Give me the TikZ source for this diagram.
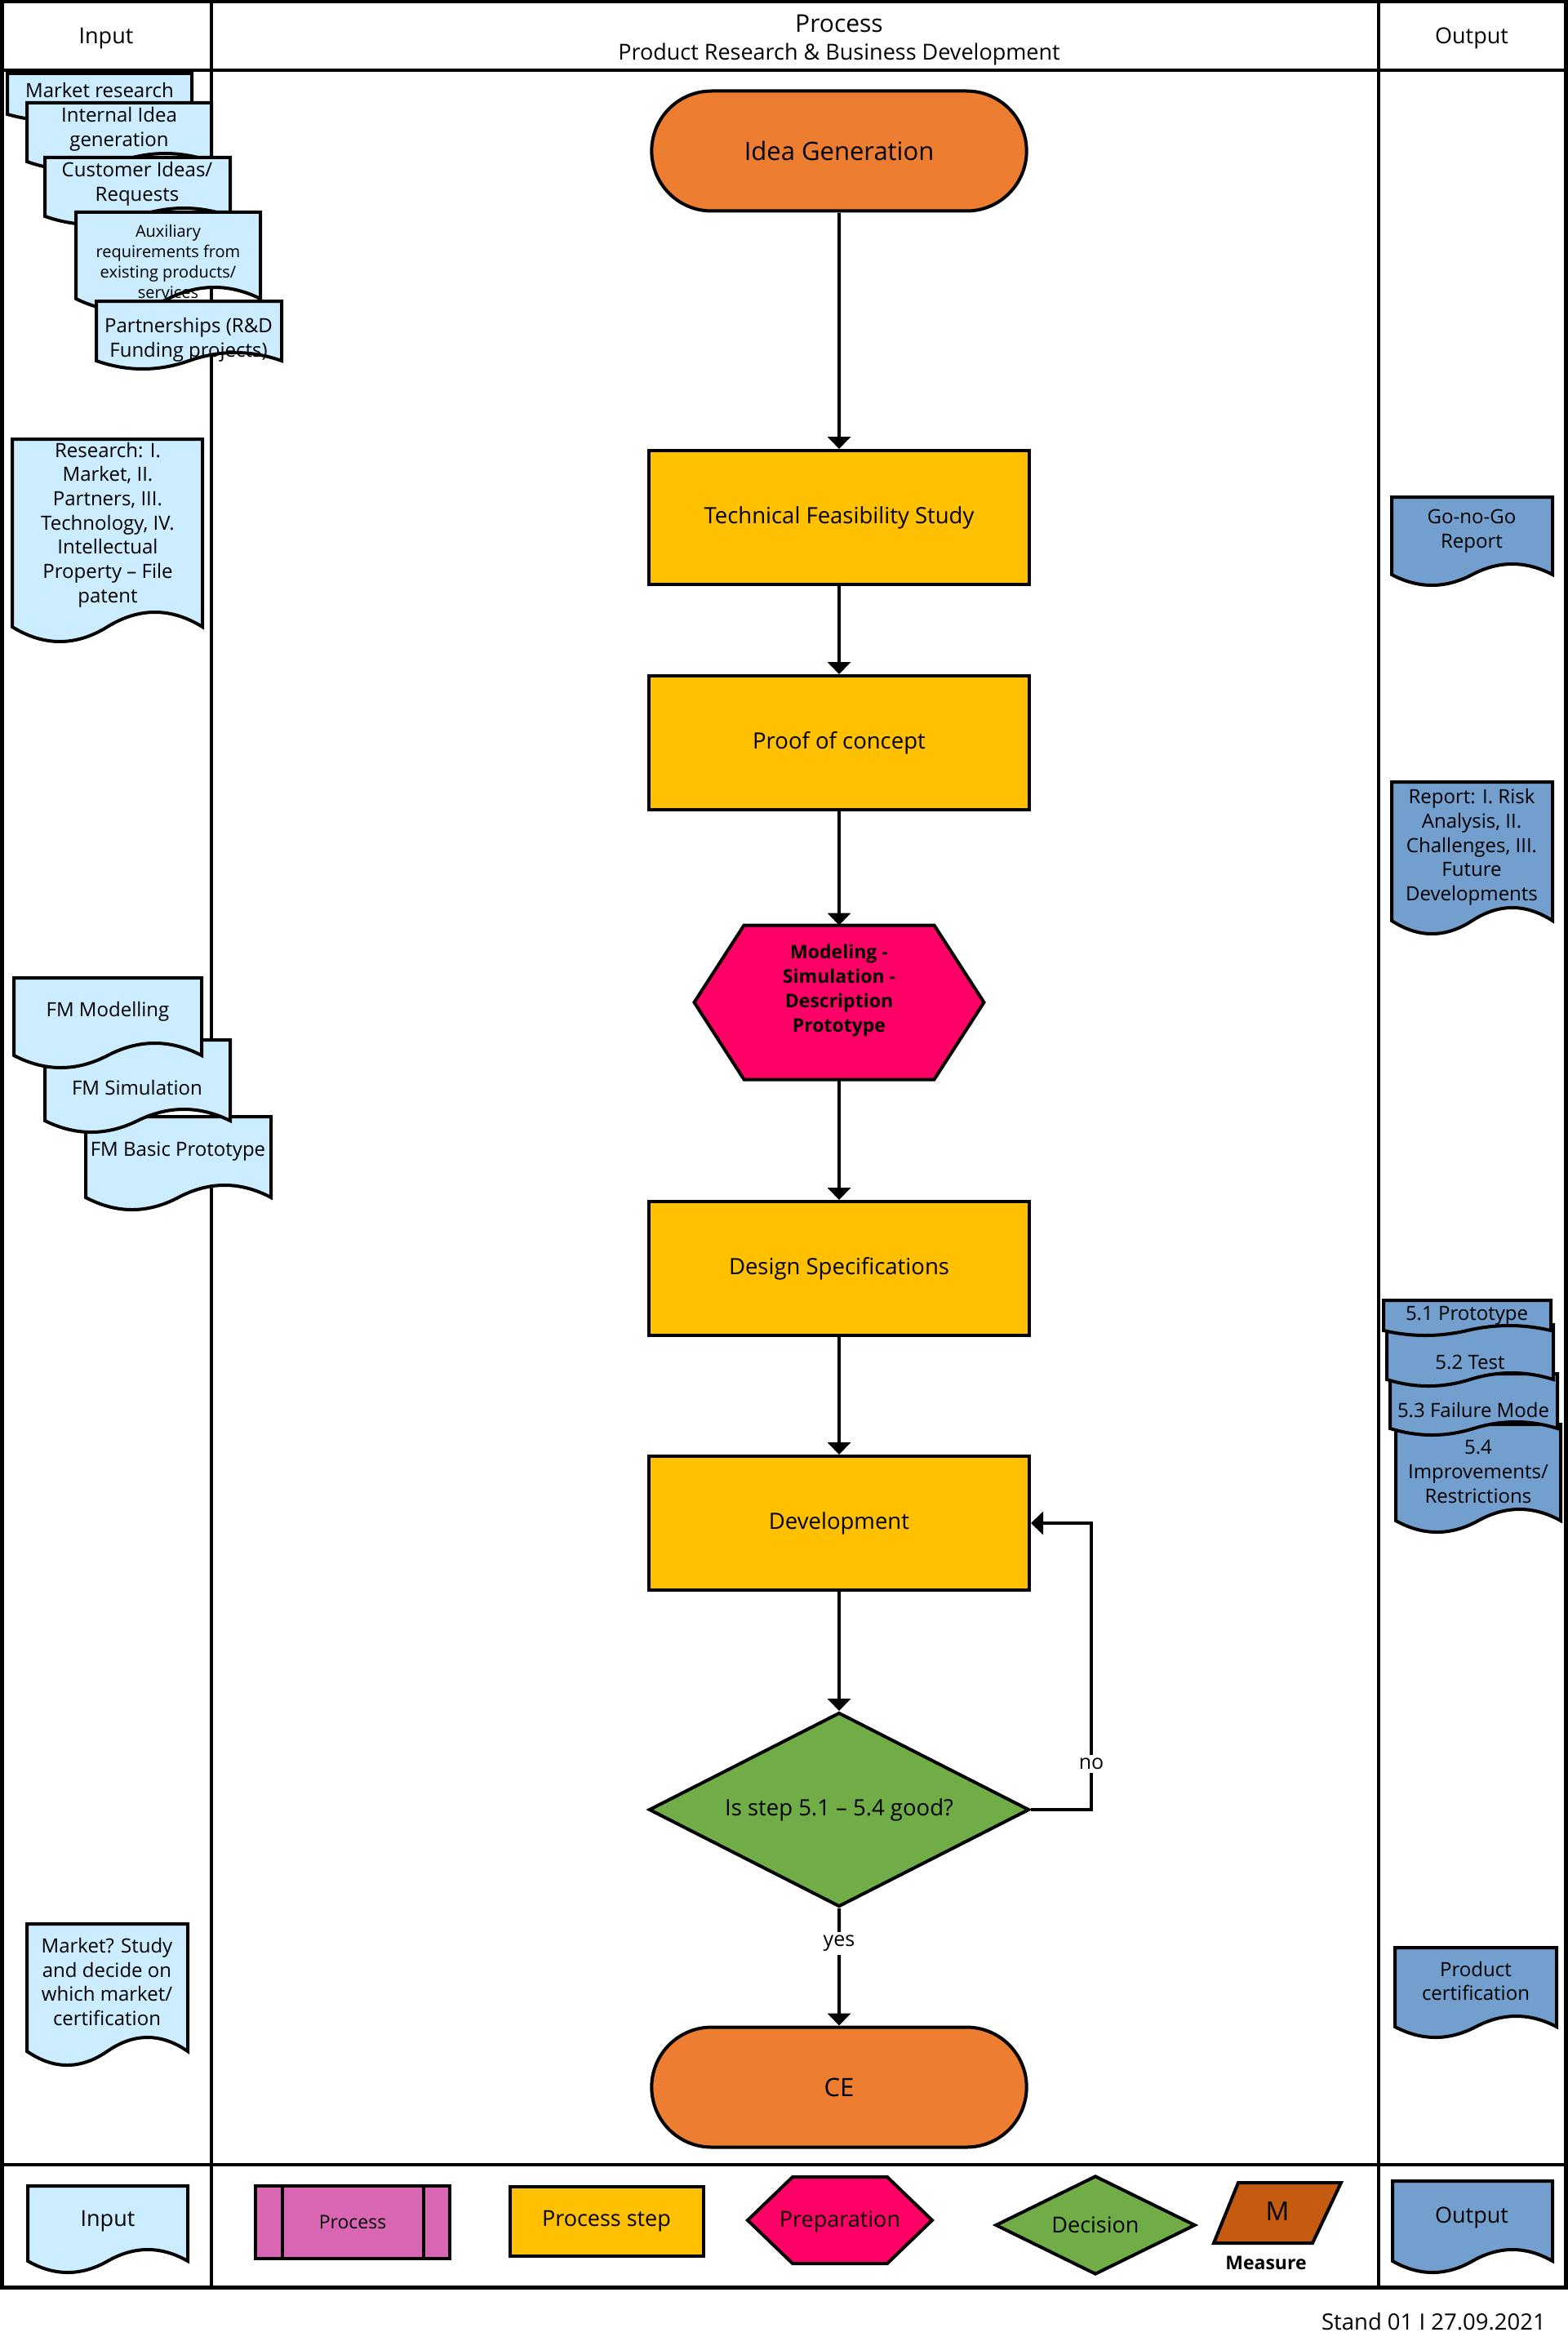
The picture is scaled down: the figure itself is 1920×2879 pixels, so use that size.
\documentclass[tikz,border=0pt]{standalone}
\usepackage{fontspec}
\setmainfont{Open Sans}
\usetikzlibrary{shapes.misc,shapes.geometric,arrows.meta,calc}
\definecolor{inblue}{RGB}{204,236,255}
\definecolor{outblue}{RGB}{114,159,206}
\definecolor{orng}{RGB}{237,125,49}
\definecolor{yel}{RGB}{255,192,0}
\definecolor{hexpink}{RGB}{255,0,102}
\definecolor{grn}{RGB}{112,173,71}
\definecolor{procpink}{RGB}{217,102,178}
\definecolor{measurec}{RGB}{197,90,17}
\newcommand\fsz[2]{\fontsize{#1}{#2}\selectfont}
\tikzset{
  frameline/.style={line width=4pt, draw=black},
  outerline/.style={line width=5pt, draw=black},
  shapeline/.style={line width=4pt, draw=black, line join=miter},
  docline/.style={line width=4pt, draw=black, line join=miter},
  hdr/.style={font=\fsz{27}{32}, inner sep=0pt, align=center},
  doctext/.style={font=\fsz{24}{29.7}, inner sep=0pt, align=center},
  auxtext/.style={font=\fsz{20}{25}, inner sep=0pt, align=center},
  legtext/.style={font=\fsz{27}{32}, inner sep=0pt, align=center},
  stadium/.style={rounded rectangle, shapeline, fill=orng, minimum width=466pt, minimum height=147pt, font=\fsz{31}{36}},
  stepbox/.style={rectangle, shapeline, fill=yel, minimum width=466pt, minimum height=164pt, font=\fsz{27.5}{32}},
  decision/.style={diamond, aspect=2, shapeline, fill=grn, minimum width=466pt, minimum height=238pt, inner sep=2pt, font=\fsz{27.5}{32}},
  hexbox/.style={rectangle, inner sep=0pt, outer sep=0pt},
  arr/.style={line width=4pt, -{Triangle[length=15pt,width=28pt]}},
  lbl/.style={fill=white, inner sep=4pt, font=\fsz{25}{30}},
  procbox/.style={rectangle, shapeline, fill=procpink, outer sep=0pt, minimum width=238pt, minimum height=89pt, font=\fsz{23}{28}},
  legstep/.style={rectangle, shapeline, fill=yel, minimum width=237pt, minimum height=85pt, font=\fsz{27}{32}},
  legdec/.style={diamond, aspect=2, shapeline, fill=grn, minimum width=245pt, minimum height=121pt, inner sep=2pt, font=\fsz{27}{32}}
}
\newcommand\docshape[6]{%
  \pgfmathsetmacro\docL{(#4-#2)/2}%
  \pgfmathsetmacro\docM{#2+\docL}%
  \pgfmathsetmacro\docH{4*#6/3}%
  \filldraw[docline,fill=#1] (#2,#3) -- (#4,#3) -- (#4,#5)
    .. controls ({#4-\docL/3},{#5-\docH}) and ({#4-2*\docL/3},{#5-\docH}) .. (\docM,#5)
    .. controls ({\docM-\docL/3},{#5+\docH}) and ({\docM-2*\docL/3},{#5+\docH}) .. (#2,#5) -- cycle;}
\newcommand\hexdraw[3]{%
  \filldraw[shapeline,fill=#3] (#1.west) -- ($(#1.north west)+(#2,0)$) -- ($(#1.north east)+(-#2,0)$) -- (#1.east) -- ($(#1.south east)+(-#2,0)$) -- ($(#1.south west)+(#2,0)$) -- cycle;}
\begin{document}
\begin{tikzpicture}[x=1pt,y=-1pt]
\useasboundingbox (0,0) rectangle (1920,2879);
\fill[white] (0,0) rectangle (1920,2879);

% frame
\draw[frameline] (259,2) -- (259,2802);
\draw[frameline] (1689,2) -- (1689,2802);
\draw[frameline] (2,86) -- (1918,86);
\draw[frameline] (2,2652) -- (1918,2652);
\draw[outerline] (2,2) rectangle (1918,2802);

% header
\node[hdr] (hin) at (130,47) {Input};
\node[hdr, font=\fsz{30}{36}] (hproc) at (1028,29) {Process};
\node[hdr] (hsub) at (1028,66) {Product Research \& Business Development};
\node[hdr] (hout) at (1803,47) {Output};

% input documents (top stack)
\docshape{inblue}{9}{90}{235}{140}{8}
\node[doctext] (mr) at (122,111) {Market research};
\docshape{inblue}{33}{126}{259}{198}{10}
\node[doctext] (iig) at (146,158) {Internal Idea\\generation};
\docshape{inblue}{55}{193}{282}{265}{10}
\node[doctext] (cir) at (168,225) {Customer Ideas/\\Requests};
\docshape{inblue}{93}{260}{319}{366}{14}
\node[auxtext] (aux) at (206,320) {Auxiliary\\requirements from\\existing products/\\services};
\docshape{inblue}{118}{369}{345}{442}{10}
\node[doctext] (prt) at (231,416) {Partnerships (R\&D\\Funding projects)};

% research
\docshape{inblue}{15}{538}{248}{768}{18}
\node[doctext] (res) at (132,643) {Research: I.\\Market, II.\\Partners, III.\\Technology, IV.\\Intellectual\\Property – File\\patent};

% FM stack
\docshape{inblue}{105}{1368}{332}{1467}{15}
\node[doctext] (fmb) at (218,1411) {FM Basic Prototype};
\docshape{inblue}{55}{1274}{282}{1373}{14}
\node[doctext] (fms) at (168,1332) {FM Simulation};
\docshape{inblue}{17}{1198}{247}{1293}{15}
\node[doctext] (fmm) at (132,1239) {FM Modelling};

% market study
\docshape{inblue}{33}{2357}{230}{2513}{17}
\node[doctext] (mkt) at (131,2428) {Market? Study\\and decide on\\which market/\\certification};

% output documents
\docshape{outblue}{1705}{609}{1902}{704}{13}
\node[doctext] (gng) at (1803,651) {Go-no-Go\\Report};
\docshape{outblue}{1705}{958}{1902}{1128}{16}
\node[doctext] (rep) at (1803,1038) {Report: I. Risk\\Analysis, II.\\Challenges, III.\\Future\\Developments};

\docshape{outblue}{1710}{1745}{1912}{1863}{14}
\node[doctext] (s54) at (1811,1803) {5.4\\Improvements/\\Restrictions};
\docshape{outblue}{1703}{1683}{1908}{1750}{8}
\node[doctext] (s53) at (1805,1728) {5.3 Failure Mode};
\docshape{outblue}{1699}{1623}{1903}{1690}{8}
\node[doctext] (s52) at (1801,1669) {5.2 Test};
\docshape{outblue}{1695}{1593}{1900}{1630}{6}
\node[doctext] (s51) at (1797,1612) {5.1 Prototype};

\docshape{outblue}{1709}{2386}{1907}{2483}{13}
\node[doctext] (pc) at (1808,2427) {Product\\certification};

% main flow
\node[stadium] (idea) at (1028,185) {Idea Generation};
\node[stepbox] (tfs) at (1028,634) {Technical Feasibility Study};
\node[stepbox] (poc) at (1028,910) {Proof of concept};
\node[hexbox, minimum width=355pt, minimum height=189pt] (hex) at (1028,1228) {};
\hexdraw{hex}{61}{hexpink}
\node[font=\bfseries\fsz{23}{30}, align=center, inner sep=0pt] (hextext) at (1028,1214) {Modeling -\\Simulation -\\Description\\Prototype};
\node[stepbox] (ds) at (1028,1554) {Design Specifications};
\node[stepbox] (dev) at (1028,1866) {Development};
\node[decision] (dec) at (1028,2217) {Is step 5.1 – 5.4 good?};
\node[stadium] (ce) at (1028,2557) {CE};

\draw[arr] (idea) -- (tfs);
\draw[arr] (tfs) -- (poc);
\draw[arr] (poc) -- (hex);
\draw[arr] (hex) -- (ds);
\draw[arr] (ds) -- (dev);
\draw[arr] (dev) -- (dec);
\draw[arr] (dec) -- node[lbl, pos=0.3] (yes) {yes} (ce);
\draw[arr] (dec.east) -- ++(74,0) |- node[lbl, pos=0.08] (no) {no} (dev.east);

% legend
\docshape{inblue}{34}{2678}{230}{2770}{14}
\node[legtext] (lin) at (132,2721) {Input};
\node[procbox] (lproc) at (432,2722) {Process};
\draw[shapeline] ($(lproc.north west)+(33,0)$) -- ($(lproc.south west)+(33,0)$);
\draw[shapeline] ($(lproc.north east)+(-32,0)$) -- ($(lproc.south east)+(-32,0)$);
\node[legstep] (lstep) at (743,2721) {Process step};
\node[hexbox, minimum width=226pt, minimum height=106pt] (lprep) at (1029,2720) {};
\hexdraw{lprep}{55}{hexpink}
\node[legtext] (lpreptext) at (1029,2722) {Preparation};
\node[legdec] (ldec) at (1342,2726) {Decision};
\filldraw[shapeline, fill=measurec] (1517,2674) -- (1643,2674) -- (1608,2748) -- (1487,2748) -- cycle;
\node[font=\fsz{32}{38}, inner sep=0pt] (lm) at (1565,2709) {M};
\node[font=\bfseries\fsz{23}{28}, inner sep=0pt] (lmeas) at (1551,2772) {Measure};
\docshape{outblue}{1706}{2672}{1902}{2770}{14}
\node[legtext] (lout) at (1803,2717) {Output};

\node[font=\fsz{27.5}{32}, inner sep=0pt, anchor=east] (stand) at (1894,2844) {Stand 01 I 27.09.2021};
\end{tikzpicture}
\end{document}
